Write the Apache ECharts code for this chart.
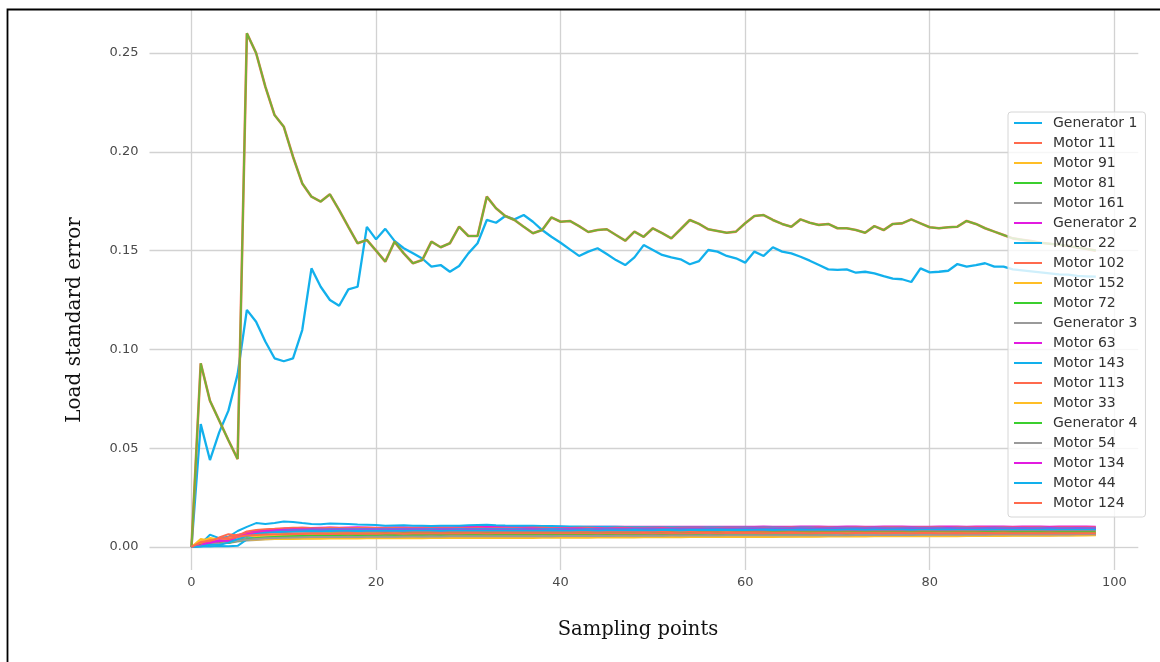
<!DOCTYPE html>
<html>
<head>
<meta charset="utf-8">
<script src="https://cdn.jsdelivr.net/npm/echarts@6/dist/echarts.min.js"></script>
<style>
  html, body { margin: 0; padding: 0; background: #fff; }
  #chart { width: 1160px; height: 662px; }
</style>
</head>
<body>
<div id="chart"></div>
<script>
// ---------------- DATA ----------------
const seriesNames = ['Generator 1','Motor 11','Motor 91','Motor 81','Motor 161','Generator 2','Motor 22','Motor 102','Motor 152','Motor 72','Generator 3','Motor 63','Motor 143','Motor 113','Motor 33','Generator 4','Motor 54','Motor 134','Motor 44','Motor 124'];
const xTicks = [0, 20, 40, 60, 80, 100];
const yTicks = [0, 0.05, 0.10, 0.15, 0.20, 0.25];

const generator1 = [
0, 0.0622, 0.0440, 0.0580, 0.0690, 0.0875, 0.1200, 0.1140, 0.1040, 0.0955,
0.0940, 0.0955, 0.1098, 0.1410, 0.1317, 0.1250, 0.1221, 0.1304, 0.1317, 0.1620,
0.1557, 0.1610, 0.1549, 0.1512, 0.1486, 0.1460, 0.1419, 0.1427, 0.1393, 0.1422,
0.1486, 0.1537, 0.1655, 0.1641, 0.1675, 0.1658, 0.1680, 0.1646, 0.1604, 0.1570,
0.1540, 0.1506, 0.1473, 0.1495, 0.1512, 0.1483, 0.1452, 0.1427, 0.1466, 0.1528,
0.1503, 0.1478, 0.1466, 0.1456, 0.1431, 0.1447, 0.1503, 0.1495, 0.1473, 0.1461,
0.1439, 0.1495, 0.1473, 0.1517, 0.1495, 0.1486, 0.1469, 0.1449, 0.1427, 0.1405,
0.1402, 0.1405, 0.1388, 0.1393, 0.1385, 0.1371, 0.1358, 0.1355, 0.1341, 0.1410,
0.1390, 0.1393, 0.1398, 0.1432, 0.1419, 0.1427, 0.1436, 0.1419, 0.1419, 0.1405,
0.1400, 0.1395, 0.1390, 0.1385, 0.1380, 0.1378, 0.1372, 0.1370, 0.1368];

// Motor 11 and Motor 81 overlap almost exactly (drawn as the olive curve)
const motor11_81 = [
0, 0.0930, 0.0740, 0.0640, 0.0540, 0.0445, 0.2600, 0.2500, 0.2330, 0.2186,
0.2127, 0.1975, 0.1840, 0.1773, 0.1748, 0.1785, 0.1705, 0.1620, 0.1537, 0.1554,
0.1500, 0.1444, 0.1545, 0.1486, 0.1436, 0.1452, 0.1545, 0.1517, 0.1537, 0.1621,
0.1574, 0.1574, 0.1773, 0.1714, 0.1675, 0.1655, 0.1621, 0.1588, 0.1604, 0.1668,
0.1646, 0.1650, 0.1624, 0.1594, 0.1604, 0.1608, 0.1579, 0.1550, 0.1596, 0.1570,
0.1613, 0.1588, 0.1562, 0.1608, 0.1655, 0.1635, 0.1608, 0.1599, 0.1590, 0.1596,
0.1638, 0.1675, 0.1680, 0.1655, 0.1635, 0.1621, 0.1658, 0.1641, 0.1630, 0.1635,
0.1613, 0.1613, 0.1604, 0.1590, 0.1624, 0.1604, 0.1635, 0.1638, 0.1658, 0.1638,
0.1618, 0.1613, 0.1618, 0.1621, 0.1650, 0.1635, 0.1613, 0.1596, 0.1579, 0.1562,
0.1555, 0.1548, 0.1540, 0.1535, 0.1530, 0.1524, 0.1516, 0.1508, 0.1500];

const motor91 = [
0, 0.0040, 0.0032, 0.0028, 0.0034, 0.0038, 0.0041, 0.0043, 0.0044, 0.0045,
0.0045, 0.0046, 0.0046, 0.0046, 0.0047, 0.0047, 0.0047, 0.0047, 0.0048, 0.0047,
0.0048, 0.0048, 0.0048, 0.0048, 0.0049, 0.0048, 0.0049, 0.0049, 0.0049, 0.0049,
0.0050, 0.0049, 0.0050, 0.0050, 0.0050, 0.0050, 0.0051, 0.0050, 0.0051, 0.0051,
0.0051, 0.0051, 0.0052, 0.0051, 0.0052, 0.0052, 0.0052, 0.0052, 0.0053, 0.0052,
0.0053, 0.0053, 0.0053, 0.0053, 0.0054, 0.0053, 0.0054, 0.0054, 0.0054, 0.0054,
0.0055, 0.0054, 0.0055, 0.0055, 0.0055, 0.0055, 0.0056, 0.0055, 0.0056, 0.0056,
0.0056, 0.0056, 0.0057, 0.0056, 0.0057, 0.0057, 0.0057, 0.0057, 0.0058, 0.0057,
0.0058, 0.0058, 0.0058, 0.0058, 0.0059, 0.0058, 0.0059, 0.0059, 0.0059, 0.0059,
0.0060, 0.0059, 0.0060, 0.0060, 0.0060, 0.0060, 0.0060, 0.0061, 0.0061];

const motor161 = [
0, 0.0010, 0.0014, 0.0022, 0.0020, 0.0028, 0.0033, 0.0036, 0.0039, 0.0041,
0.0042, 0.0043, 0.0044, 0.0044, 0.0045, 0.0045, 0.0046, 0.0046, 0.0046, 0.0047,
0.0047, 0.0047, 0.0048, 0.0047, 0.0048, 0.0048, 0.0048, 0.0049, 0.0048, 0.0049,
0.0049, 0.0049, 0.0050, 0.0049, 0.0050, 0.0050, 0.0050, 0.0050, 0.0051, 0.0050,
0.0051, 0.0051, 0.0051, 0.0052, 0.0051, 0.0052, 0.0052, 0.0052, 0.0052, 0.0053,
0.0053, 0.0053, 0.0053, 0.0054, 0.0053, 0.0054, 0.0054, 0.0054, 0.0055, 0.0054,
0.0055, 0.0055, 0.0055, 0.0055, 0.0056, 0.0055, 0.0056, 0.0056, 0.0056, 0.0057,
0.0056, 0.0057, 0.0057, 0.0057, 0.0057, 0.0058, 0.0057, 0.0058, 0.0058, 0.0058,
0.0058, 0.0059, 0.0058, 0.0059, 0.0059, 0.0059, 0.0059, 0.0060, 0.0059, 0.0060,
0.0060, 0.0060, 0.0060, 0.0060, 0.0061, 0.0060, 0.0061, 0.0061, 0.0061];

const generator2 = [
0, 0.0008, 0.0035, 0.0040, 0.0030, 0.0055, 0.0072, 0.0080, 0.0086, 0.0090,
0.0093, 0.0095, 0.0097, 0.0096, 0.0098, 0.0099, 0.0098, 0.0099, 0.0100, 0.0099,
0.0098, 0.0099, 0.0100, 0.0100, 0.0099, 0.0100, 0.0101, 0.0100, 0.0100, 0.0101,
0.0101, 0.0102, 0.0101, 0.0101, 0.0102, 0.0102, 0.0101, 0.0101, 0.0102, 0.0102,
0.0102, 0.0101, 0.0101, 0.0102, 0.0102, 0.0102, 0.0103, 0.0102, 0.0102, 0.0102,
0.0103, 0.0103, 0.0102, 0.0102, 0.0103, 0.0103, 0.0103, 0.0102, 0.0103, 0.0103,
0.0103, 0.0103, 0.0104, 0.0103, 0.0103, 0.0103, 0.0104, 0.0104, 0.0104, 0.0103,
0.0103, 0.0104, 0.0104, 0.0103, 0.0103, 0.0104, 0.0104, 0.0104, 0.0103, 0.0103,
0.0103, 0.0104, 0.0104, 0.0104, 0.0103, 0.0104, 0.0104, 0.0104, 0.0104, 0.0103,
0.0104, 0.0104, 0.0104, 0.0103, 0.0104, 0.0104, 0.0104, 0.0104, 0.0103];

const motor22 = [
0, 0.0015, 0.0062, 0.0045, 0.0052, 0.0081, 0.0102, 0.0121, 0.0116, 0.0122,
0.0129, 0.0126, 0.0121, 0.0117, 0.0115, 0.0119, 0.0118, 0.0116, 0.0114, 0.0113,
0.0111, 0.0108, 0.0109, 0.0110, 0.0108, 0.0107, 0.0106, 0.0107, 0.0108, 0.0108,
0.0110, 0.0111, 0.0112, 0.0110, 0.0109, 0.0108, 0.0107, 0.0107, 0.0106, 0.0106,
0.0105, 0.0104, 0.0104, 0.0103, 0.0103, 0.0102, 0.0102, 0.0101, 0.0101, 0.0101,
0.0100, 0.0100, 0.0101, 0.0100, 0.0099, 0.0099, 0.0100, 0.0100, 0.0099, 0.0099,
0.0099, 0.0098, 0.0099, 0.0099, 0.0098, 0.0098, 0.0099, 0.0099, 0.0098, 0.0098,
0.0098, 0.0098, 0.0097, 0.0097, 0.0098, 0.0098, 0.0097, 0.0097, 0.0097, 0.0097,
0.0097, 0.0097, 0.0096, 0.0097, 0.0097, 0.0096, 0.0096, 0.0097, 0.0097, 0.0096,
0.0096, 0.0096, 0.0097, 0.0096, 0.0096, 0.0096, 0.0096, 0.0096, 0.0096];

const motor102 = [
0, 0.0010, 0.0020, 0.0048, 0.0065, 0.0058, 0.0079, 0.0086, 0.0090, 0.0092,
0.0095, 0.0097, 0.0098, 0.0096, 0.0095, 0.0097, 0.0096, 0.0095, 0.0096, 0.0097,
0.0096, 0.0095, 0.0096, 0.0096, 0.0095, 0.0095, 0.0096, 0.0096, 0.0095, 0.0095,
0.0096, 0.0097, 0.0096, 0.0096, 0.0095, 0.0096, 0.0096, 0.0097, 0.0097, 0.0096,
0.0096, 0.0096, 0.0097, 0.0097, 0.0096, 0.0096, 0.0097, 0.0097, 0.0098, 0.0097,
0.0097, 0.0098, 0.0098, 0.0097, 0.0097, 0.0098, 0.0098, 0.0097, 0.0097, 0.0098,
0.0098, 0.0098, 0.0097, 0.0098, 0.0098, 0.0099, 0.0098, 0.0098, 0.0099, 0.0099,
0.0098, 0.0098, 0.0099, 0.0099, 0.0098, 0.0099, 0.0099, 0.0099, 0.0098, 0.0099,
0.0099, 0.0099, 0.0098, 0.0099, 0.0099, 0.0099, 0.0099, 0.0098, 0.0099, 0.0099,
0.0099, 0.0099, 0.0099, 0.0098, 0.0099, 0.0099, 0.0099, 0.0099, 0.0099];

const motor152 = [
0, 0.0022, 0.0036, 0.0026, 0.0030, 0.0033, 0.0036, 0.0038, 0.0039, 0.0040,
0.0041, 0.0041, 0.0042, 0.0042, 0.0042, 0.0043, 0.0043, 0.0043, 0.0043, 0.0044,
0.0044, 0.0044, 0.0044, 0.0044, 0.0045, 0.0044, 0.0045, 0.0045, 0.0045, 0.0045,
0.0046, 0.0045, 0.0046, 0.0046, 0.0046, 0.0046, 0.0047, 0.0046, 0.0047, 0.0047,
0.0047, 0.0047, 0.0048, 0.0047, 0.0048, 0.0048, 0.0048, 0.0049, 0.0048, 0.0049,
0.0049, 0.0049, 0.0050, 0.0049, 0.0050, 0.0050, 0.0050, 0.0051, 0.0050, 0.0051,
0.0051, 0.0051, 0.0052, 0.0051, 0.0052, 0.0052, 0.0052, 0.0053, 0.0052, 0.0053,
0.0053, 0.0053, 0.0054, 0.0053, 0.0054, 0.0054, 0.0054, 0.0055, 0.0054, 0.0055,
0.0055, 0.0055, 0.0056, 0.0055, 0.0056, 0.0056, 0.0056, 0.0057, 0.0056, 0.0057,
0.0057, 0.0057, 0.0058, 0.0057, 0.0058, 0.0058, 0.0058, 0.0058, 0.0059];

const motor72 = [
0, 0.0005, 0.0016, 0.0022, 0.0020, 0.0034, 0.0046, 0.0054, 0.0059, 0.0062,
0.0064, 0.0066, 0.0067, 0.0068, 0.0068, 0.0069, 0.0069, 0.0070, 0.0069, 0.0070,
0.0070, 0.0071, 0.0070, 0.0071, 0.0071, 0.0071, 0.0072, 0.0071, 0.0072, 0.0072,
0.0072, 0.0073, 0.0072, 0.0072, 0.0073, 0.0073, 0.0073, 0.0074, 0.0073, 0.0073,
0.0074, 0.0074, 0.0073, 0.0074, 0.0074, 0.0075, 0.0074, 0.0074, 0.0075, 0.0075,
0.0075, 0.0075, 0.0076, 0.0075, 0.0075, 0.0076, 0.0076, 0.0076, 0.0075, 0.0076,
0.0076, 0.0077, 0.0076, 0.0076, 0.0077, 0.0077, 0.0077, 0.0076, 0.0077, 0.0077,
0.0077, 0.0078, 0.0077, 0.0077, 0.0078, 0.0078, 0.0078, 0.0077, 0.0078, 0.0078,
0.0078, 0.0078, 0.0079, 0.0078, 0.0078, 0.0079, 0.0079, 0.0078, 0.0079, 0.0079,
0.0079, 0.0079, 0.0078, 0.0079, 0.0079, 0.0079, 0.0079, 0.0079, 0.0079];

const generator3 = [
0, 0.0015, 0.0022, 0.0030, 0.0027, 0.0036, 0.0042, 0.0046, 0.0049, 0.0051,
0.0052, 0.0053, 0.0054, 0.0054, 0.0055, 0.0055, 0.0056, 0.0056, 0.0056, 0.0057,
0.0057, 0.0057, 0.0058, 0.0057, 0.0058, 0.0058, 0.0058, 0.0059, 0.0058, 0.0059,
0.0059, 0.0059, 0.0059, 0.0060, 0.0059, 0.0060, 0.0060, 0.0060, 0.0060, 0.0061,
0.0060, 0.0061, 0.0061, 0.0061, 0.0061, 0.0061, 0.0062, 0.0061, 0.0062, 0.0062,
0.0062, 0.0062, 0.0062, 0.0063, 0.0062, 0.0063, 0.0063, 0.0063, 0.0063, 0.0063,
0.0064, 0.0063, 0.0064, 0.0064, 0.0064, 0.0064, 0.0064, 0.0065, 0.0064, 0.0065,
0.0065, 0.0065, 0.0065, 0.0065, 0.0066, 0.0065, 0.0066, 0.0066, 0.0066, 0.0066,
0.0066, 0.0067, 0.0066, 0.0067, 0.0067, 0.0067, 0.0067, 0.0067, 0.0068, 0.0067,
0.0068, 0.0068, 0.0068, 0.0068, 0.0068, 0.0068, 0.0068, 0.0068, 0.0068];

const motor63 = [
0, 0.0012, 0.0028, 0.0025, 0.0041, 0.0060, 0.0070, 0.0076, 0.0081, 0.0084,
0.0087, 0.0088, 0.0089, 0.0090, 0.0089, 0.0090, 0.0091, 0.0090, 0.0090, 0.0091,
0.0091, 0.0090, 0.0091, 0.0092, 0.0091, 0.0091, 0.0092, 0.0092, 0.0091, 0.0091,
0.0092, 0.0092, 0.0093, 0.0092, 0.0092, 0.0092, 0.0093, 0.0093, 0.0092, 0.0092,
0.0093, 0.0093, 0.0093, 0.0092, 0.0093, 0.0093, 0.0094, 0.0093, 0.0093, 0.0093,
0.0094, 0.0094, 0.0093, 0.0093, 0.0094, 0.0094, 0.0094, 0.0093, 0.0094, 0.0094,
0.0094, 0.0095, 0.0094, 0.0094, 0.0094, 0.0095, 0.0095, 0.0094, 0.0095, 0.0095,
0.0095, 0.0094, 0.0095, 0.0095, 0.0095, 0.0095, 0.0094, 0.0095, 0.0095, 0.0095,
0.0095, 0.0095, 0.0096, 0.0095, 0.0095, 0.0095, 0.0096, 0.0095, 0.0095, 0.0095,
0.0096, 0.0095, 0.0095, 0.0096, 0.0095, 0.0095, 0.0096, 0.0095, 0.0095];

const motor143 = [
0, 0.0004, 0.0003, 0.0005, 0.0004, 0.0006, 0.0038, 0.0062, 0.0071, 0.0079,
0.0082, 0.0085, 0.0086, 0.0087, 0.0087, 0.0088, 0.0089, 0.0088, 0.0089, 0.0089,
0.0089, 0.0088, 0.0088, 0.0089, 0.0089, 0.0089, 0.0090, 0.0089, 0.0089, 0.0090,
0.0090, 0.0091, 0.0090, 0.0090, 0.0091, 0.0091, 0.0090, 0.0090, 0.0091, 0.0091,
0.0091, 0.0091, 0.0090, 0.0091, 0.0091, 0.0092, 0.0091, 0.0091, 0.0092, 0.0092,
0.0092, 0.0091, 0.0092, 0.0092, 0.0092, 0.0092, 0.0093, 0.0092, 0.0092, 0.0092,
0.0093, 0.0093, 0.0092, 0.0093, 0.0093, 0.0093, 0.0093, 0.0093, 0.0092, 0.0093,
0.0093, 0.0093, 0.0093, 0.0094, 0.0093, 0.0093, 0.0093, 0.0094, 0.0094, 0.0093,
0.0093, 0.0094, 0.0094, 0.0094, 0.0093, 0.0094, 0.0094, 0.0094, 0.0094, 0.0094,
0.0094, 0.0093, 0.0094, 0.0094, 0.0094, 0.0094, 0.0094, 0.0094, 0.0094];

const motor113 = [
0, 0.0018, 0.0042, 0.0036, 0.0050, 0.0062, 0.0068, 0.0072, 0.0074, 0.0075,
0.0076, 0.0077, 0.0077, 0.0078, 0.0077, 0.0078, 0.0078, 0.0077, 0.0078, 0.0078,
0.0079, 0.0078, 0.0078, 0.0079, 0.0079, 0.0078, 0.0079, 0.0079, 0.0079, 0.0080,
0.0079, 0.0079, 0.0080, 0.0080, 0.0079, 0.0080, 0.0080, 0.0080, 0.0081, 0.0080,
0.0080, 0.0080, 0.0081, 0.0081, 0.0080, 0.0081, 0.0081, 0.0081, 0.0081, 0.0082,
0.0081, 0.0081, 0.0082, 0.0082, 0.0081, 0.0082, 0.0082, 0.0082, 0.0082, 0.0082,
0.0083, 0.0082, 0.0082, 0.0083, 0.0083, 0.0082, 0.0083, 0.0083, 0.0083, 0.0083,
0.0083, 0.0084, 0.0083, 0.0083, 0.0084, 0.0084, 0.0083, 0.0084, 0.0084, 0.0084,
0.0084, 0.0084, 0.0084, 0.0085, 0.0084, 0.0084, 0.0085, 0.0085, 0.0084, 0.0085,
0.0085, 0.0085, 0.0085, 0.0084, 0.0085, 0.0085, 0.0085, 0.0085, 0.0085];

const motor33 = [
0, 0.0030, 0.0045, 0.0038, 0.0042, 0.0050, 0.0054, 0.0056, 0.0058, 0.0059,
0.0060, 0.0060, 0.0061, 0.0060, 0.0061, 0.0061, 0.0061, 0.0062, 0.0061, 0.0062,
0.0062, 0.0062, 0.0062, 0.0063, 0.0062, 0.0063, 0.0063, 0.0063, 0.0062, 0.0063,
0.0063, 0.0063, 0.0064, 0.0063, 0.0064, 0.0064, 0.0064, 0.0063, 0.0064, 0.0064,
0.0064, 0.0065, 0.0064, 0.0064, 0.0065, 0.0065, 0.0065, 0.0065, 0.0064, 0.0065,
0.0065, 0.0065, 0.0066, 0.0065, 0.0066, 0.0066, 0.0066, 0.0065, 0.0066, 0.0066,
0.0066, 0.0066, 0.0067, 0.0066, 0.0066, 0.0067, 0.0067, 0.0067, 0.0066, 0.0067,
0.0067, 0.0067, 0.0067, 0.0068, 0.0067, 0.0067, 0.0068, 0.0068, 0.0067, 0.0068,
0.0068, 0.0068, 0.0068, 0.0068, 0.0069, 0.0068, 0.0068, 0.0069, 0.0069, 0.0068,
0.0069, 0.0069, 0.0069, 0.0069, 0.0068, 0.0069, 0.0069, 0.0069, 0.0069];

const generator4 = [
0, 0.0009, 0.0012, 0.0018, 0.0026, 0.0030, 0.0038, 0.0044, 0.0048, 0.0051,
0.0053, 0.0055, 0.0056, 0.0057, 0.0058, 0.0058, 0.0059, 0.0059, 0.0060, 0.0060,
0.0060, 0.0061, 0.0061, 0.0060, 0.0061, 0.0061, 0.0062, 0.0061, 0.0062, 0.0062,
0.0062, 0.0063, 0.0062, 0.0062, 0.0063, 0.0063, 0.0063, 0.0064, 0.0063, 0.0063,
0.0063, 0.0064, 0.0064, 0.0064, 0.0063, 0.0064, 0.0064, 0.0065, 0.0064, 0.0064,
0.0065, 0.0065, 0.0064, 0.0065, 0.0065, 0.0065, 0.0066, 0.0065, 0.0065, 0.0066,
0.0066, 0.0065, 0.0066, 0.0066, 0.0066, 0.0067, 0.0066, 0.0066, 0.0067, 0.0067,
0.0067, 0.0066, 0.0067, 0.0067, 0.0067, 0.0068, 0.0067, 0.0067, 0.0068, 0.0068,
0.0068, 0.0067, 0.0068, 0.0068, 0.0068, 0.0068, 0.0069, 0.0068, 0.0068, 0.0069,
0.0069, 0.0068, 0.0069, 0.0069, 0.0069, 0.0069, 0.0069, 0.0069, 0.0069];

const motor54 = [
0, 0.0007, 0.0018, 0.0016, 0.0024, 0.0031, 0.0037, 0.0041, 0.0044, 0.0046,
0.0047, 0.0048, 0.0049, 0.0050, 0.0050, 0.0051, 0.0051, 0.0052, 0.0051, 0.0052,
0.0052, 0.0053, 0.0052, 0.0053, 0.0053, 0.0053, 0.0054, 0.0053, 0.0054, 0.0054,
0.0054, 0.0054, 0.0055, 0.0054, 0.0055, 0.0055, 0.0055, 0.0055, 0.0056, 0.0055,
0.0056, 0.0056, 0.0056, 0.0056, 0.0057, 0.0056, 0.0057, 0.0057, 0.0057, 0.0057,
0.0058, 0.0057, 0.0058, 0.0058, 0.0058, 0.0058, 0.0059, 0.0058, 0.0059, 0.0059,
0.0059, 0.0059, 0.0059, 0.0060, 0.0059, 0.0060, 0.0060, 0.0060, 0.0060, 0.0060,
0.0061, 0.0060, 0.0061, 0.0061, 0.0061, 0.0061, 0.0061, 0.0062, 0.0061, 0.0062,
0.0062, 0.0062, 0.0062, 0.0062, 0.0062, 0.0063, 0.0062, 0.0063, 0.0063, 0.0063,
0.0063, 0.0063, 0.0063, 0.0063, 0.0064, 0.0063, 0.0064, 0.0064, 0.0064];

const motor134 = [
0, 0.0006, 0.0020, 0.0034, 0.0030, 0.0052, 0.0064, 0.0071, 0.0075, 0.0078,
0.0080, 0.0082, 0.0083, 0.0084, 0.0083, 0.0084, 0.0085, 0.0085, 0.0084, 0.0085,
0.0085, 0.0086, 0.0085, 0.0085, 0.0086, 0.0086, 0.0086, 0.0085, 0.0086, 0.0086,
0.0087, 0.0087, 0.0086, 0.0086, 0.0087, 0.0087, 0.0087, 0.0088, 0.0087, 0.0087,
0.0087, 0.0088, 0.0088, 0.0087, 0.0088, 0.0088, 0.0088, 0.0088, 0.0089, 0.0088,
0.0088, 0.0089, 0.0089, 0.0088, 0.0089, 0.0089, 0.0089, 0.0089, 0.0088, 0.0089,
0.0089, 0.0090, 0.0089, 0.0089, 0.0090, 0.0090, 0.0089, 0.0090, 0.0090, 0.0090,
0.0090, 0.0090, 0.0089, 0.0090, 0.0090, 0.0091, 0.0090, 0.0090, 0.0090, 0.0091,
0.0091, 0.0090, 0.0090, 0.0091, 0.0091, 0.0091, 0.0090, 0.0091, 0.0091, 0.0091,
0.0091, 0.0091, 0.0091, 0.0090, 0.0091, 0.0091, 0.0091, 0.0091, 0.0091];

const motor44 = [
0, 0.0003, 0.0012, 0.0010, 0.0022, 0.0040, 0.0055, 0.0066, 0.0072, 0.0075,
0.0077, 0.0079, 0.0080, 0.0081, 0.0080, 0.0081, 0.0082, 0.0082, 0.0081, 0.0082,
0.0082, 0.0083, 0.0082, 0.0082, 0.0083, 0.0083, 0.0083, 0.0082, 0.0083, 0.0083,
0.0084, 0.0083, 0.0083, 0.0084, 0.0084, 0.0084, 0.0083, 0.0084, 0.0084, 0.0085,
0.0084, 0.0084, 0.0085, 0.0085, 0.0084, 0.0085, 0.0085, 0.0085, 0.0086, 0.0085,
0.0085, 0.0086, 0.0086, 0.0085, 0.0086, 0.0086, 0.0086, 0.0087, 0.0086, 0.0086,
0.0086, 0.0087, 0.0087, 0.0086, 0.0087, 0.0087, 0.0087, 0.0087, 0.0088, 0.0087,
0.0087, 0.0088, 0.0088, 0.0087, 0.0088, 0.0088, 0.0088, 0.0088, 0.0087, 0.0088,
0.0088, 0.0088, 0.0089, 0.0088, 0.0088, 0.0089, 0.0088, 0.0088, 0.0089, 0.0089,
0.0089, 0.0088, 0.0089, 0.0089, 0.0089, 0.0088, 0.0089, 0.0089, 0.0089];

const motor124 = [
0, 0.0025, 0.0030, 0.0046, 0.0040, 0.0052, 0.0058, 0.0061, 0.0063, 0.0064,
0.0065, 0.0066, 0.0066, 0.0067, 0.0067, 0.0066, 0.0067, 0.0067, 0.0068, 0.0067,
0.0067, 0.0068, 0.0068, 0.0067, 0.0068, 0.0068, 0.0068, 0.0069, 0.0068, 0.0068,
0.0069, 0.0069, 0.0068, 0.0069, 0.0069, 0.0069, 0.0069, 0.0070, 0.0069, 0.0069,
0.0070, 0.0069, 0.0070, 0.0070, 0.0070, 0.0069, 0.0070, 0.0070, 0.0070, 0.0071,
0.0070, 0.0070, 0.0071, 0.0070, 0.0070, 0.0071, 0.0071, 0.0070, 0.0071, 0.0071,
0.0071, 0.0071, 0.0070, 0.0071, 0.0071, 0.0071, 0.0071, 0.0070, 0.0071, 0.0071,
0.0071, 0.0070, 0.0071, 0.0071, 0.0071, 0.0070, 0.0071, 0.0071, 0.0070, 0.0071,
0.0071, 0.0070, 0.0070, 0.0071, 0.0070, 0.0070, 0.0071, 0.0070, 0.0070, 0.0070,
0.0070, 0.0070, 0.0069, 0.0070, 0.0070, 0.0069, 0.0069, 0.0069, 0.0069];

// ---------------- STYLE ----------------
const C = {
  blue: '#12B0EC', tomato: '#FF6A4D', orange: '#FFBE26',
  green: '#3BCF2E', gray: '#9A9A9A', magenta: '#E21BE0'
};
const seriesSpec = [
  ['Generator 1', generator1, C.blue, {width: 2.3}],
  ['Motor 11', motor11_81, C.tomato, {width: 2.6}],
  ['Motor 91', motor91, C.orange],
  ['Motor 81', motor11_81, C.green, {width: 2, opacity: 0.7}],
  ['Motor 161', motor161, C.gray],
  ['Generator 2', generator2, C.magenta],
  ['Motor 22', motor22, C.blue],
  ['Motor 102', motor102, C.tomato],
  ['Motor 152', motor152, C.orange],
  ['Motor 72', motor72, C.green],
  ['Generator 3', generator3, C.gray],
  ['Motor 63', motor63, C.magenta],
  ['Motor 143', motor143, C.blue],
  ['Motor 113', motor113, C.tomato],
  ['Motor 33', motor33, C.orange],
  ['Generator 4', generator4, C.green],
  ['Motor 54', motor54, C.gray],
  ['Motor 134', motor134, C.magenta],
  ['Motor 44', motor44, C.blue],
  ['Motor 124', motor124, C.tomato]
];

const gridColor = '#d2d2d2';
const tickFont = { fontFamily: 'DejaVu Sans', fontSize: 13, color: '#4a4a4a' };

const series = seriesSpec.map(([name, vals, color, ls]) => ({
  name: name,
  type: 'line',
  xAxisIndex: 0,
  yAxisIndex: 0,
  data: vals.map((v, i) => [i, v]),
  symbol: 'none',
  showSymbol: false,
  clip: false,
  color: color,
  lineStyle: Object.assign({ width: 2, color: color }, ls || {}),
  emphasis: { disabled: true },
  animation: false
}));

const chart = echarts.init(document.getElementById('chart'), null, { renderer: 'canvas' });
chart.setOption({
  backgroundColor: '#ffffff',
  animation: false,
  grid: { left: 191.5, right: 45.7, top: 53, bottom: 115, containLabel: false },
  xAxis: [
    {
      type: 'value', position: 'bottom', min: xTicks[0], max: xTicks[xTicks.length - 1], interval: 20,
      axisLine: { show: false, onZero: false },
      axisTick: { show: true, length: 23, lineStyle: { color: gridColor, width: 1.3 } },
      splitLine: { show: true, lineStyle: { color: gridColor, width: 1.3 } },
      axisLabel: Object.assign({ margin: 29 }, tickFont)
    },
    {
      type: 'value', position: 'top', min: xTicks[0], max: xTicks[xTicks.length - 1], interval: 20,
      axisLine: { show: false, onZero: false },
      axisTick: { show: true, length: 43, lineStyle: { color: gridColor, width: 1.3 } },
      splitLine: { show: false },
      axisLabel: { show: false }
    }
  ],
  yAxis: [
    {
      type: 'value', position: 'left', min: yTicks[0], max: yTicks[yTicks.length - 1], interval: 0.05,
      axisLine: { show: false, onZero: false },
      axisTick: { show: true, length: 42, lineStyle: { color: gridColor, width: 1.3 } },
      splitLine: { show: true, lineStyle: { color: gridColor, width: 1.3 } },
      axisLabel: Object.assign({ margin: 53, formatter: v => v.toFixed(2) }, tickFont)
    },
    {
      type: 'value', position: 'right', min: yTicks[0], max: yTicks[yTicks.length - 1], interval: 0.05,
      axisLine: { show: false, onZero: false },
      axisTick: { show: true, length: 24, lineStyle: { color: gridColor, width: 1.3 } },
      splitLine: { show: false },
      axisLabel: { show: false }
    }
  ],
  legend: {
    data: seriesNames,
    orient: 'vertical',
    left: 1008,
    top: 112,
    itemWidth: 28,
    itemHeight: 14,
    itemGap: 6,
    padding: [4, 8, 7, 5],
    backgroundColor: 'rgba(255,255,255,0.8)',
    borderColor: '#d6d6d6',
    borderWidth: 1,
    borderRadius: 3,
    selectedMode: false,
    itemStyle: { opacity: 0 },
    lineStyle: { opacity: 1, width: 2 },
    textStyle: { fontFamily: 'DejaVu Sans', fontSize: 14, color: '#333', padding: [0, 0, 0, 6] }
  },
  tooltip: { show: false },
  series: series,
  graphic: [
    {
      type: 'rect', silent: true, z: 100,
      shape: { x: 7.5, y: 9.5, width: 1200, height: 700 },
      style: { fill: 'none', stroke: '#000', lineWidth: 1.8 }
    },
    {
      type: 'text', silent: true, x: 75, y: 320, rotation: Math.PI / 2,
      style: { text: 'Load standard error', font: '20px "DejaVu Serif"', fill: '#111', textAlign: 'center', textVerticalAlign: 'middle' }
    },
    {
      type: 'text', silent: true, x: 638, y: 630,
      style: { text: 'Sampling points', font: '19.5px "DejaVu Serif"', fill: '#111', textAlign: 'center', textVerticalAlign: 'middle' }
    }
  ]
});
</script>
</body>
</html>
